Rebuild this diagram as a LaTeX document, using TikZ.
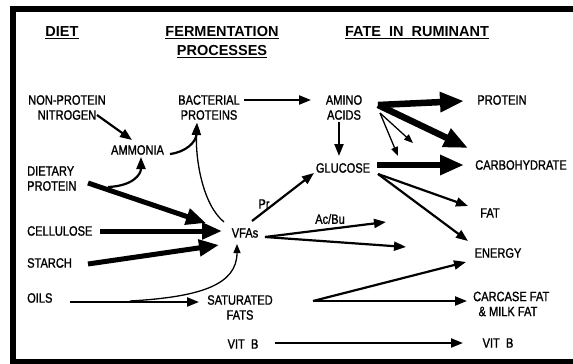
\documentclass[tikz,border=0pt]{standalone}
\usepackage{fontspec}
\setmainfont{Liberation Sans}[FakeStretch=0.82,FakeBold=1.3]
\newfontfamily\hdrfont{Liberation Sans}
\usetikzlibrary{arrows.meta}
\begin{document}
\begin{tikzpicture}[x=1pt,y=-1pt,
  lbl/.style={inner sep=0pt, font=\fontsize{13.5}{15}\selectfont, align=center},
  hdr/.style={inner sep=0pt, font=\hdrfont\bfseries\fontsize{14.5}{19}\selectfont, align=center},
  a1/.style={line width=1.3pt, -{Triangle[length=9pt,width=7pt]}},
  a2/.style={line width=2.2pt, -{Triangle[length=12pt,width=9pt]}},
  a3/.style={line width=5pt, -{Triangle[length=20pt,width=16pt]}},
  a4/.style={line width=6.5pt, -{Triangle[length=24pt,width=19pt]}}]
\useasboundingbox (0,0) rectangle (573,364);
% frame
\fill (10,6) rectangle (573,12);
\fill (10,6) rectangle (16,364);
\fill (10,359) rectangle (573,364);
% headers
\node[hdr] (diet) at (62,33) {\underline{DIET}};
\node[hdr] (ferm) at (222,42) {\underline{FERMENTATION}\\\underline{PROCESSES}};
\node[hdr] (fate) at (417,33) {\underline{FATE\ \ IN\ \ RUMINANT}};
% labels
\node[lbl] (npn) at (67,107.5) {NON-PROTEIN\\NITROGEN};
\node[lbl] (ammonia) at (137.5,150) {AMMONIA};
\node[lbl] (bact) at (209,107.5) {BACTERIAL\\PROTEINS};
\node[lbl] (amino) at (344,107.5) {AMINO\\ACIDS};
\node[lbl] (protein) at (502,100) {PROTEIN};
\node[lbl] (glucose) at (343,168) {GLUCOSE};
\node[lbl] (carb) at (521,165) {CARBOHYDRATE};
\node[lbl, anchor=west, align=left] (dietprot) at (27,178.5) {DIETARY\\PROTEIN};
\node[lbl, anchor=west] (cellulose) at (27,231) {CELLULOSE};
\node[lbl] (vfas) at (245,233) {VFAs};
\node[lbl, anchor=west] (starch) at (27,263) {STARCH};
\node[lbl, anchor=west] (oils) at (27,298) {OILS};
\node[lbl] (satfats) at (240,307.5) {SATURATED\\FATS};
\node[lbl] (vitb1) at (243,344) {VIT\ \ B};
\node[lbl] (vitb2) at (498,343) {VIT\ \ B};
\node[lbl] (fat) at (490,213) {FAT};
\node[lbl] (energy) at (498,253) {ENERGY};
\node[lbl, anchor=west, align=left] (carcase) at (473,304) {CARCASE FAT\\\ \,\& MILK FAT};
\node[lbl] (pr) at (264,204) {Pr};
\node[lbl] (acbu) at (330,219) {Ac/Bu};
% connector end points
\coordinate (bactE) at (244,100);
\coordinate (aminoW) at (311,100);
\coordinate (npnE) at (97,115);
\coordinate (ammN) at (132,140);
\coordinate (ammE) at (170,154);
\coordinate (bactS) at (197,123);
\coordinate (vfaNW) at (224,222);
\coordinate (dpE) at (108,187);
\coordinate (ammS) at (141,157);
\coordinate (dpE2) at (88,183);
\coordinate (vfaW1) at (206,223);
\coordinate (celE) at (100,231);
\coordinate (vfaW2) at (222,231);
\coordinate (stE) at (88,264);
\coordinate (vfaW3) at (219,245);
\coordinate (oilsE) at (70,302);
\coordinate (satW) at (199,302);
\coordinate (oilsM) at (130,301);
\coordinate (vfaS) at (237,244);
\coordinate (vfaNE) at (252,221);
\coordinate (gluSW) at (314,173);
\coordinate (vfaE) at (265,237);
\coordinate (acT1) at (386,222);
\coordinate (acT2) at (406,247);
\coordinate (aminoS) at (339,122);
\coordinate (gluN) at (339,156);
\coordinate (aminoE) at (378,105);
\coordinate (protW) at (464,101);
\coordinate (carbNW) at (468,148);
\coordinate (aminoSE) at (380,113);
\coordinate (t1) at (398,156);
\coordinate (t2) at (413,143);
\coordinate (gluE) at (377,165);
\coordinate (carbW) at (464,165);
\coordinate (gluSE) at (378,174);
\coordinate (fatW) at (468,206);
\coordinate (enNW) at (468,241);
\coordinate (satE) at (313,301);
\coordinate (enSW) at (466,262);
\coordinate (carW) at (467,301);
\coordinate (vb1E) at (275,343);
\coordinate (vb2W) at (463,343);
% connectors
\draw[a2] (bactE) -- (aminoW);
\draw[a2] (npnE) -- (ammN);
\draw[a2] (ammE) .. controls (186,152) and (196,142) .. (bactS);
\draw[a1] (vfaNW) .. controls (203,205) and (195,160) .. (bactS);
\draw[a2] (dpE) .. controls (132,186) and (141,175) .. (ammS);
\draw[a3] (dpE2) -- (vfaW1);
\draw[a3] (celE) -- (vfaW2);
\draw[a3] (stE) -- (vfaW3);
\draw[a2] (oilsE) -- (satW);
\draw[a1] (oilsM) .. controls (200,297) and (237,285) .. (vfaS);
\draw[a2] (vfaNE) -- (gluSW);
\draw[a2] (vfaE) -- (acT1);
\draw[a2] (vfaE) -- (acT2);
\draw[a2] (aminoS) -- (gluN);
\draw[a4] (aminoE) -- (protW);
\draw[a4] (aminoE) -- (carbNW);
\draw[a1] (aminoSE) -- (t1);
\draw[a1] (aminoSE) -- (t2);
\draw[a4] (gluE) -- (carbW);
\draw[a2] (gluSE) -- (fatW);
\draw[a2] (gluSE) -- (enNW);
\draw[a2] (satE) -- (enSW);
\draw[a2] (satE) -- (carW);
\draw[a2] (vb1E) -- (vb2W);
\end{tikzpicture}
\end{document}
